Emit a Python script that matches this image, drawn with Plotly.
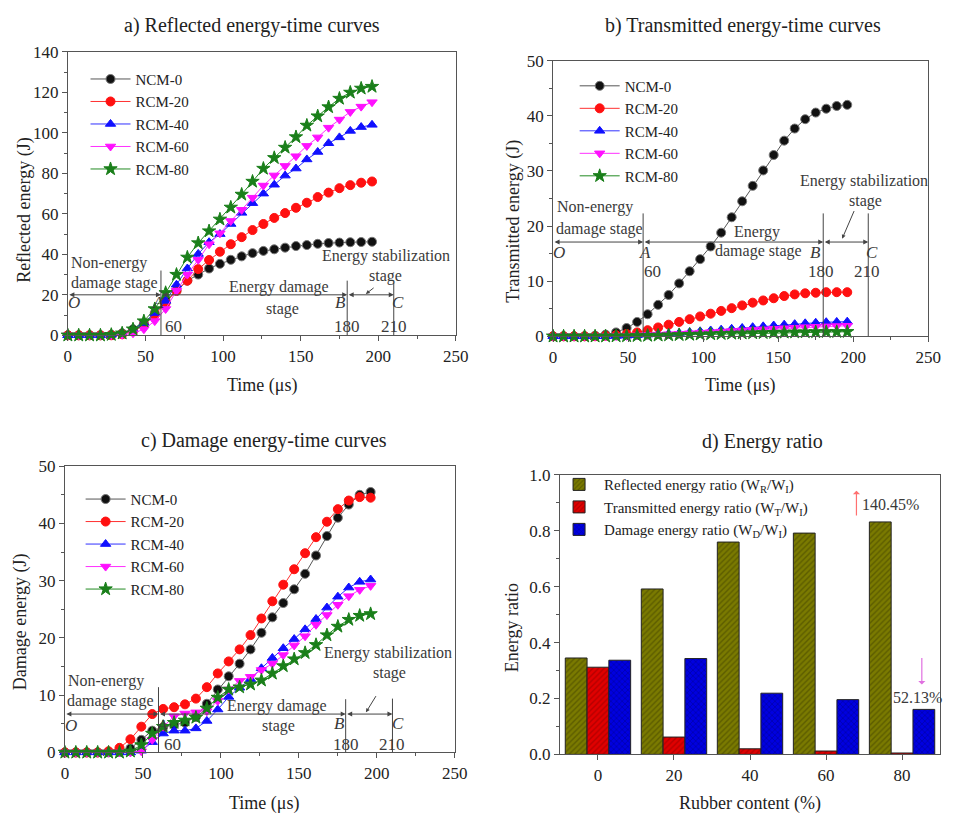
import plotly.graph_objects as go

# ---------------- data ----------------
T = [0, 7, 14, 21, 28, 35, 42, 49, 56, 63, 70, 77, 84, 91, 98, 105, 112, 119, 126,
     133, 140, 147, 154, 161, 168, 175, 182, 189, 196]
SERIES = ["NCM-0", "RCM-20", "RCM-40", "RCM-60", "RCM-80"]

A_NCM0 = [0, 0, 0, 0, 0.3, 1, 3, 6, 11, 17, 22, 27, 30, 33, 35.3, 37.3, 39, 40.6, 41.7,
          42.5, 43.3, 44.1, 44.6, 45.2, 45.6, 45.8, 46, 46.1, 46.2]
A_RCM20 = [0, 0, 0, 0, 0, 0.5, 2, 5, 10, 16, 22, 27, 32.7, 37.2, 41.3, 45, 48.5, 52, 55,
           58, 60.4, 63, 65.5, 68.3, 70.5, 72.7, 74.2, 75.4, 76]
A_RCM40 = [0, 0, 0, 0, 0.3, 1, 3, 6, 11, 17, 25, 33, 40.2, 46, 50, 55, 60.5, 65.3, 70,
           74.4, 78.9, 82.4, 86.9, 90.6, 94.9, 97.8, 101, 102.9, 104]
A_RCM60 = [0, 0, 0, 0, 0, 0.3, 1, 3, 7, 13, 22, 30, 37.3, 45, 50.4, 56.5, 62, 68, 74,
           79, 83.7, 88.5, 93.6, 97.8, 102.6, 106.6, 110.4, 113, 115.2]
A_RCM80 = [0, 0, 0, 0, 0.3, 1, 3, 7, 13, 21, 30, 38.5, 45.6, 51.5, 57.3, 63.2, 69.6, 76, 82.4,
           87.7, 92.8, 98, 103.7, 108.3, 112.8, 117, 120, 122, 122.9]

B_NCM0 = [0, 0, 0, 0, 0.1, 0.3, 0.7, 1.5, 2.6, 4, 5.7, 7.5, 9.6, 11.8, 14, 16.3, 18.8, 21.6, 24.5,
          27.3, 30.1, 32.9, 35.5, 37.7, 39.4, 40.6, 41.3, 41.8, 42]
B_RCM20 = [0, 0, 0, 0, 0, 0.1, 0.2, 0.4, 0.7, 1.1, 1.6, 2.1, 2.6, 3.1, 3.6, 4.1, 4.6, 5.1, 5.6,
           6.1, 6.5, 6.9, 7.3, 7.6, 7.8, 7.9, 8.0, 8.0, 8.0]
B_RCM40 = [0, 0, 0, 0, 0, 0, 0.05, 0.1, 0.2, 0.3, 0.4, 0.5, 0.6, 0.75, 0.9, 1.05, 1.2, 1.35, 1.5,
           1.65, 1.8, 1.95, 2.1, 2.2, 2.35, 2.45, 2.55, 2.6, 2.65]
B_RCM60 = [0, 0, 0, 0, 0, 0, 0.03, 0.07, 0.15, 0.22, 0.3, 0.38, 0.46, 0.55, 0.65, 0.75, 0.85, 0.95, 1.05,
           1.15, 1.25, 1.35, 1.45, 1.55, 1.65, 1.72, 1.8, 1.85, 1.9]
B_RCM80 = [0, 0, 0, 0, 0, 0, 0.02, 0.04, 0.08, 0.12, 0.16, 0.2, 0.25, 0.3, 0.35, 0.4, 0.45, 0.5, 0.54,
           0.58, 0.62, 0.66, 0.7, 0.73, 0.76, 0.78, 0.8, 0.81, 0.82]

C_NCM0 = [0, 0, 0, 0, 0, 0.1, 0.7, 2.2, 3.8, 4.4, 4.8, 5.2, 6.2, 8.5, 11, 13.3, 15.5, 18, 20.9,
          23.6, 26.1, 28.5, 31.2, 34.4, 37.8, 41, 43.3, 45, 45.5]
C_RCM20 = [0, 0, 0, 0, 0.2, 0.8, 2.3, 4.5, 6.7, 7.6, 7.9, 8.4, 9.4, 11.4, 13.8, 15.9, 18, 20.5, 23.4,
           26.4, 29.3, 32, 34.8, 37.6, 40.3, 42.5, 44, 44.6, 44.5]
C_RCM40 = [0, 0, 0, 0, 0, 0, 0, 0.3, 1.8, 3.3, 3.8, 3.8, 4.2, 5.5, 7.5, 9.7, 11.3, 12.8, 14.7,
           16.5, 18.2, 19.8, 21.5, 23.3, 25.3, 27.2, 28.8, 29.8, 30.2]
C_RCM60 = [0, 0, 0, 0, 0, 0, 0, 0.2, 2.2, 4.5, 6.3, 6.8, 7, 7.2, 9, 11, 12.5, 13.2, 14.4,
           15.5, 17, 18.7, 20.3, 22.3, 24, 25.8, 27.3, 28.4, 29.1]
C_RCM80 = [0, 0, 0, 0, 0, 0, 0.2, 1.3, 3.3, 4.5, 5.2, 5.6, 6.1, 7.7, 9.6, 11, 11.4, 11.9, 12.6,
           13.8, 15.1, 16.3, 17.4, 18.8, 20.5, 22, 23.2, 23.9, 24.2]

CONTENT = ["0", "20", "40", "60", "80"]
RATIO_R = [0.345, 0.592, 0.760, 0.792, 0.832]
RATIO_T = [0.312, 0.062, 0.020, 0.012, 0.005]
RATIO_D = [0.337, 0.343, 0.219, 0.196, 0.161]
RATIO_NAMES = ["Reflected energy ratio (W<sub>R</sub>/W<sub>I</sub>)",
               "Transmitted energy ratio (W<sub>T</sub>/W<sub>I</sub>)",
               "Damage energy ratio (W<sub>D</sub>/W<sub>I</sub>)"]

# ---------------- styling ----------------
W, H = 957, 823
FONT = "Liberation Serif, Times New Roman, serif"
TXT = "#222"
GRAYTXT = "#3a3a3a"

def px(x):
    return x / W

def py(y):
    return 1 - y / H

STYLES = [
    dict(line="#555555", mcol="#111111", mline="#777777", sym="circle", size=9),
    dict(line="#ff3030", mcol="#ff1010", mline="#ff1010", sym="circle", size=9),
    dict(line="#3030ff", mcol="#1010ff", mline="#1010ff", sym="triangle-up", size=9),
    dict(line="#ff30ff", mcol="#ff10ff", mline="#ff10ff", sym="triangle-down", size=9),
    dict(line="#228b22", mcol="#1a7f1a", mline="#1a7f1a", sym="star", size=10),
]

fig = go.Figure()

panels = [
    ("x", "y", "legend", [A_NCM0, A_RCM20, A_RCM40, A_RCM60, A_RCM80]),
    ("x2", "y2", "legend2", [B_NCM0, B_RCM20, B_RCM40, B_RCM60, B_RCM80]),
    ("x3", "y3", "legend3", [C_NCM0, C_RCM20, C_RCM40, C_RCM60, C_RCM80]),
]
for xa, ya, lg, data in panels:
    for name, vals, st in zip(SERIES, data, STYLES):
        fig.add_trace(go.Scatter(
            x=T, y=vals, name=name, mode="lines+markers", xaxis=xa, yaxis=ya, legend=lg,
            line=dict(color=st["line"], width=1),
            marker=dict(symbol=st["sym"], size=st["size"], color=st["mcol"],
                        line=dict(color=st["mline"], width=1)),
            cliponaxis=False,
        ))

bar_styles = [
    dict(bg="#7a7a00", fg="#3f3f00", shape="/"),
    dict(bg="#e00000", fg="#8a0000", shape="/"),
    dict(bg="#0000e0", fg="#00007a", shape="x"),
]
for i, (name, vals, st) in enumerate(zip(RATIO_NAMES, [RATIO_R, RATIO_T, RATIO_D], bar_styles)):
    fig.add_trace(go.Bar(
        x=CONTENT, y=vals, name=name, xaxis="x4", yaxis="y4", legend="legend4",
        marker=dict(color=st["bg"], line=dict(color="#222", width=1),
                    pattern=dict(shape=st["shape"], fgcolor=st["fg"], bgcolor=st["bg"],
                                 size=4, solidity=0.35)),
    ))

# ---------------- axes ----------------
def ax(domain, rng, dtick, minor, anchor, fmt=None, cat=False):
    d = dict(domain=domain, anchor=anchor, showline=True, mirror=True, linecolor="#555",
             linewidth=1, ticks="outside", ticklen=5, tickcolor="#555", showgrid=False,
             zeroline=False, tickfont=dict(family=FONT, size=17, color=TXT))
    if cat:
        d.update(type="category", range=rng)
    else:
        d.update(range=rng, dtick=dtick, tick0=0,
                 minor=dict(dtick=minor, ticks="outside", ticklen=3, tickcolor="#555"))
    if fmt:
        d["tickformat"] = fmt
    return d

dom = {
    "a": ([px(65), px(460)], [py(334), py(44)]),
    "b": ([px(559), px(941)], [py(335), py(53)]),
    "c": ([px(62), px(459)], [py(761), py(468)]),
    "d": ([px(566), px(953)], [py(763), py(477)]),
}

fig.update_layout(
    xaxis=ax(dom["a"][0], [0, 250], 50, 25, "y"),
    yaxis=ax(dom["a"][1], [0, 140], 20, 10, "x"),
    xaxis2=ax(dom["b"][0], [0, 250], 50, 25, "y2"),
    yaxis2=ax(dom["b"][1], [0, 50], 10, 5, "x2"),
    xaxis3=ax(dom["c"][0], [0, 250], 50, 25, "y3"),
    yaxis3=ax(dom["c"][1], [0, 50], 10, 5, "x3"),
    xaxis4=ax(dom["d"][0], [-0.5, 4.5], None, None, "y4", cat=True),
    yaxis4=ax(dom["d"][1], [0, 1.0], 0.2, 0.1, "x4", fmt=".1f"),
)

# ---------------- legends ----------------
def leg(x, y, size=15, gap=0, iw=40):
    return dict(x=x, y=y, xanchor="left", yanchor="top", bgcolor="rgba(0,0,0,0)",
                font=dict(family=FONT, size=size, color=TXT), tracegroupgap=gap,
                itemwidth=iw, borderwidth=0)

fig.update_layout(
    legend=leg(px(83), py(55)),
    legend2=leg(px(581), py(62)),
    legend3=leg(px(78), py(485)),
    legend4=leg(px(560), py(470), size=15, iw=40),
)

# ---------------- annotations ----------------
ann = []

def text(x, y, s, size=16, xref="paper", yref="paper", color=TXT, angle=0, xanchor="center", yanchor="middle"):
    ann.append(dict(x=x, y=y, xref=xref, yref=yref, text=s, showarrow=False, textangle=angle,
                    font=dict(family=FONT, size=size, color=color), xanchor=xanchor, yanchor=yanchor))

# subplot titles
text(px(252), py(17), "a) Reflected energy-time curves", size=20)
text(px(752), py(17), "b) Transmitted energy-time curves", size=20)
text(px(265), py(442), "c) Damage energy-time curves", size=20)
text(px(772), py(443), "d) Energy ratio", size=20)

# axis titles
text(px(21), py(206), "Reflected energy (J)", size=18, angle=-90)
text(px(263), py(385), "Time (μs)", size=18)
text(px(519), py(217), "Transmitted energy (J)", size=18, angle=-90)
text(px(750), py(385), "Time (μs)", size=18)
text(px(17), py(627), "Damage energy (J)", size=18, angle=-90)
text(px(265), py(813), "Time (μs)", size=18)
text(px(518), py(633), "Energy ratio", size=18, angle=-90)
text(px(760), py(813), "Rubber content (%)", size=18)

shapes = []
LC = "#444"

def stage(xr, yr, p):
    yl = p["yl"]
    for xv, top in zip([60, 180, 210], p["tops"]):
        shapes.append(dict(type="line", xref=xr, yref=yr, x0=xv, x1=xv, y0=0, y1=top,
                           line=dict(color=LC, width=1)))
    for a, b in [(0, 60), (60, 180), (180, 210)]:
        ann.append(dict(x=b, y=yl, ax=a, ay=yl, xref=xr, yref=yr, axref=xr, ayref=yr, text="",
                        showarrow=True, arrowhead=2, arrowside="end+start", arrowsize=1,
                        arrowwidth=1, arrowcolor=LC, standoff=0, startstandoff=0))
    for lab, (lx, ly) in p["letters"].items():
        text(lx, ly, f"<i>{lab}</i>", size=17, xref=xr, yref=yr, color=GRAYTXT)
    for lab, (lx, ly) in p["nums"].items():
        text(lx, ly, lab, size=17, xref=xr, yref=yr, color=GRAYTXT)
    for s, (lx, ly, xa) in p["texts"]:
        text(lx, ly, s, size=16, xref=xr, yref=yr, color=GRAYTXT, xanchor=xa)
    (x0, y0), (x1, y1) = p["arrow"]
    ann.append(dict(x=x1, y=y1, ax=x0, ay=y0, xref=xr, yref=yr, axref=xr, ayref=yr, text="",
                    showarrow=True, arrowhead=2, arrowsize=0.8, arrowwidth=1, arrowcolor=LC,
                    standoff=0))

stage("x", "y", dict(
    yl=20, tops=[32, 27, 26],
    letters={"O": (4, 16.4), "A": (58, 16.4), "B": (176, 16.4), "C": (212.5, 16.4)},
    nums={"60": (68, 4.3), "180": (180, 4.3), "210": (210, 4.3)},
    texts=[("Non-energy", (1, 35.7, "left")), ("damage stage", (0.5, 26, "left")),
           ("Energy damage", (136, 23.7, "center")), ("stage", (138, 13.2, "center")),
           ("Energy stabilization", (205, 39, "center")), ("stage", (205, 29.5, "center"))],
    arrow=((198, 24), (192, 20.4)),
))
stage("x2", "y2", dict(
    yl=17.1, tops=[22.3, 22.3, 22.3],
    letters={"O": (4, 15.2), "A": (61, 15.2), "B": (175, 15.2), "C": (212.5, 15.2)},
    nums={"60": (66, 11.8), "180": (178.5, 11.8), "210": (209, 11.8)},
    texts=[("Non-energy", (1, 23.4, "left")), ("damage stage", (0.5, 19.5, "left")),
           ("Energy", (136, 18.9, "center")), ("damage stage", (137, 15.5, "center")),
           ("Energy stabilization", (207, 28.1, "center")), ("stage", (208, 24.5, "center"))],
    arrow=((201, 23), (192.6, 17.7)),
))
stage("x3", "y3", dict(
    yl=6.7, tops=[11.4, 9.3, 9.4],
    letters={"O": (4, 4.7), "A": (62, 4.7), "B": (176, 5.0), "C": (213.5, 5.0)},
    nums={"60": (69, 1.3), "180": (180, 1.3), "210": (209.5, 1.3)},
    texts=[("Non-energy", (1, 12.4, "left")), ("damage stage", (0.2, 9, "left")),
           ("Energy damage", (136, 8.1, "center")), ("stage", (137, 4.6, "center")),
           ("Energy stabilization", (207.4, 17.4, "center")), ("stage", (208, 13.8, "center"))],
    arrow=((200, 10.1), (193, 7)),
))

# panel d annotations
ann.append(dict(x=3.4, y=0.944, ax=3.4, ay=0.85, xref="x4", yref="y4", axref="x4", ayref="y4",
                text="", showarrow=True, arrowhead=1, arrowsize=1, arrowwidth=1.2,
                arrowcolor="#ff7070", standoff=0))
text(3.45, 0.895, "140.45%", size=16, xref="x4", yref="y4", color=GRAYTXT, xanchor="left")
ann.append(dict(x=4.26, y=0.25, ax=4.26, ay=0.35, xref="x4", yref="y4", axref="x4", ayref="y4",
                text="", showarrow=True, arrowhead=1, arrowsize=1, arrowwidth=1.2,
                arrowcolor="#e070e0", standoff=0))
text(4.2, 0.203, "52.13%", size=16, xref="x4", yref="y4", color=GRAYTXT)

fig.update_layout(
    width=W, height=H, margin=dict(l=0, r=0, t=0, b=0),
    paper_bgcolor="white", plot_bgcolor="white",
    barmode="group", bargap=0.14, bargroupgap=0,
    font=dict(family=FONT, color=TXT),
    annotations=ann, shapes=shapes,
)

fig.write_html("out.html")
